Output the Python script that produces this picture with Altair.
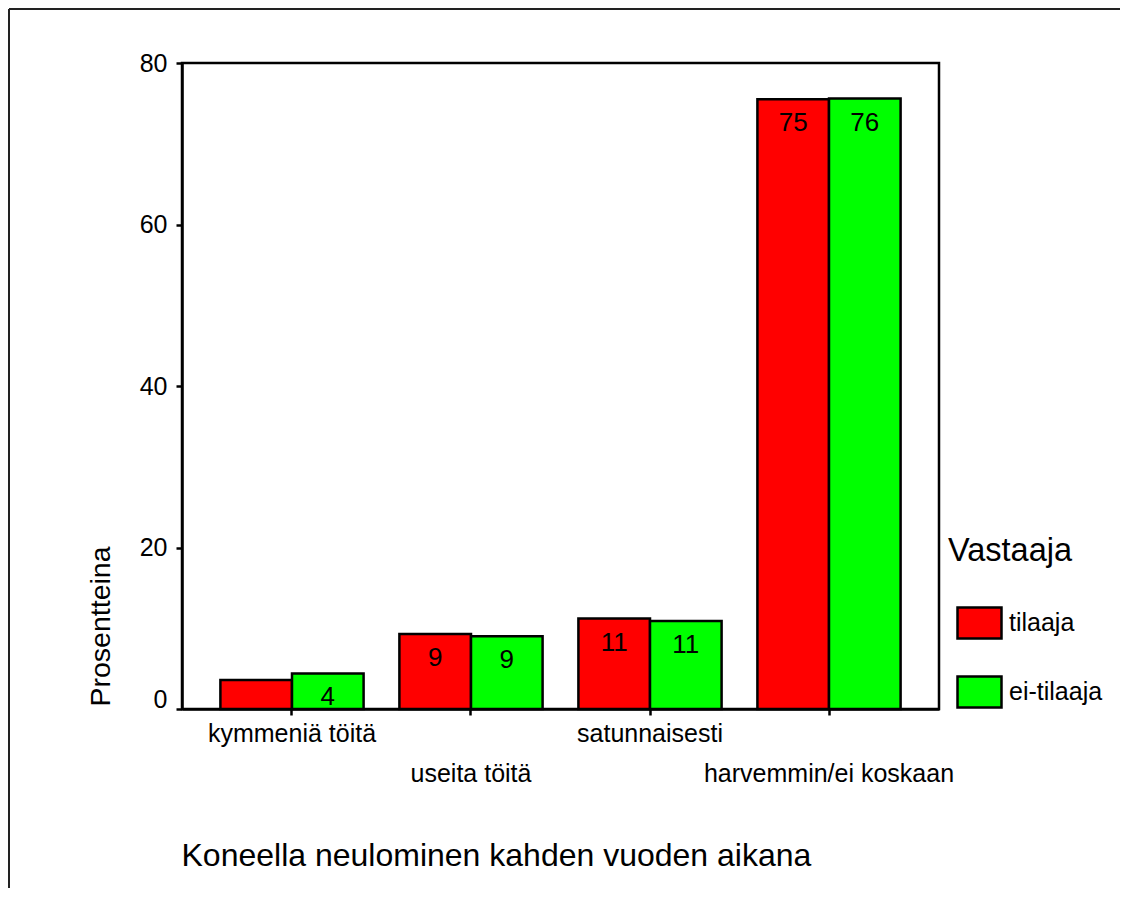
import altair as alt
import pandas as pd

categories = ["kymmeniä töitä", "useita töitä", "satunnaisesti", "harvemmin/ei koskaan"]
groups = ["tilaaja", "ei-tilaaja"]
tilaaja_values = [3.6, 9.3, 11.2, 75.5]
ei_tilaaja_values = [4.4, 9.0, 10.9, 75.6]
tilaaja_labels = ["", "9", "11", "75"]
ei_tilaaja_labels = ["4", "9", "11", "76"]
colors = ["#ff0000", "#00ff00"]
y_ticks = [0, 20, 40, 60, 80]

rows = []
for i, c in enumerate(categories):
    rows.append({"cat": c, "Vastaaja": groups[0], "value": tilaaja_values[i], "label": tilaaja_labels[i]})
    rows.append({"cat": c, "Vastaaja": groups[1], "value": ei_tilaaja_values[i], "label": ei_tilaaja_labels[i]})
df = pd.DataFrame(rows)

FONT = "Liberation Sans"
W, H = 757, 646

x_enc = alt.X(
    "cat:N",
    sort=categories,
    scale=alt.Scale(paddingInner=0.2, paddingOuter=0.2145),
    axis=alt.Axis(
        title="Koneella neulominen kahden vuoden aikana",
        titleFont=FONT, titleFontSize=32, titleFontWeight="normal", titleColor="black",
        titleAnchor="start", titleAlign="left", titleBaseline="middle",
        titleX=-1, titleY=146,
        labelAngle=0, labelFont=FONT, labelFontSize=25, labelColor="black",
        labelOverlap=False, labelBound=False, labelBaseline="top", labelLimit=0,
        labelPadding={"condition": {"test": "datum.value == 'useita töitä' || datum.value == 'harvemmin/ei koskaan'", "value": 46}, "value": 6},
        domainColor="black", domainWidth=2.5,
        tickColor="black", tickWidth=2.5, tickSize=6,
        grid=False,
    ),
)
y_enc = alt.Y(
    "value:Q",
    scale=alt.Scale(domain=[0, 80], nice=False),
    axis=alt.Axis(
        title="Prosentteina",
        titleFont=FONT, titleFontSize=28.5, titleFontWeight="normal", titleColor="black",
        titleAngle=270, titleAlign="left", titleBaseline="middle",
        titleX=-82, titleY=643,
        values=y_ticks,
        labelFont=FONT, labelFontSize=25, labelColor="black", labelPadding=9,
        labelOffset={"condition": {"test": "datum.value == 0", "value": -10}, "value": 0},
        domainColor="black", domainWidth=2.5,
        tickColor="black", tickWidth=2.5, tickSize=6,
        grid=False,
    ),
)
xoff = alt.XOffset("Vastaaja:N", sort=groups, scale=alt.Scale(paddingInner=0, paddingOuter=0))
color_enc = alt.Color(
    "Vastaaja:N",
    sort=groups,
    scale=alt.Scale(domain=groups, range=colors),
    legend=alt.Legend(
        orient="none", legendX=766, legendY=472, padding=0,
        title="Vastaaja", titleFont=FONT, titleFontSize=32.5, titleFontWeight="normal",
        titleColor="black", titlePadding=32,
        labelFont=FONT, labelFontSize=25, labelColor="black", labelOffset=6,
        symbolType="M-1,-0.705H1V0.705H-1Z", symbolSize=1936,
        symbolStrokeColor="black", symbolStrokeWidth=2.5, symbolOpacity=1,
        symbolOffset=8, rowPadding=24,
    ),
)

base = alt.Chart(df)
bars = base.mark_bar(stroke="black", strokeWidth=2.5, opacity=1).encode(
    x=x_enc, y=y_enc, xOffset=xoff, fill=color_enc
)
texts = base.mark_text(baseline="middle", align="center", dy=24, font=FONT, fontSize=26, color="black").encode(
    x=alt.X("cat:N", sort=categories),
    y=alt.Y("value:Q"),
    xOffset=alt.XOffset("Vastaaja:N", sort=groups),
    text="label:N",
)

frame_data = alt.Data(values=[{"k": 1}])
left_line = alt.Chart(frame_data).mark_rule(color="#222222", strokeWidth=2).encode(
    x=alt.value(-173), y=alt.value(-54), y2=alt.value(825)
)
top_line = alt.Chart(frame_data).mark_rule(color="#222222", strokeWidth=2).encode(
    x=alt.value(-173), x2=alt.value(938), y=alt.value(-54)
)

chart = alt.layer(bars, texts, left_line, top_line).properties(
    width=W, height=H, padding=0, background="white"
).configure_view(stroke="black", strokeWidth=2.5)

chart.save("out.html", embed_options={"renderer": "svg", "actions": False})
